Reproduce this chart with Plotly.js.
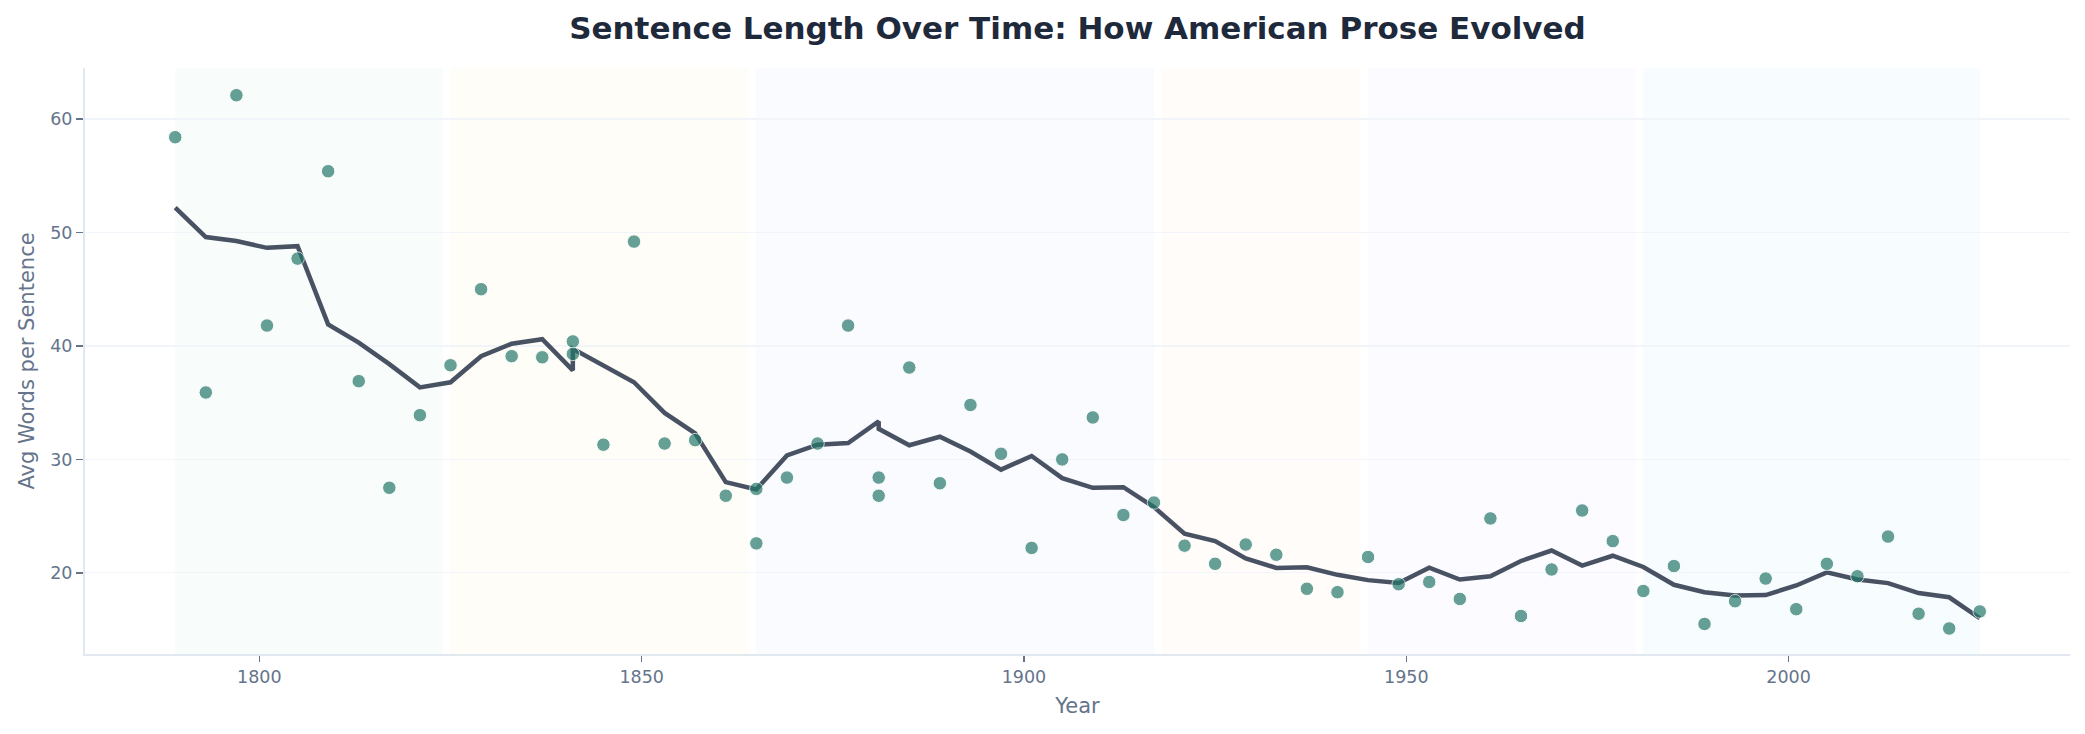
<!DOCTYPE html>
<html>
<head>
<meta charset="utf-8">
<script src="https://cdn.plot.ly/plotly-3.0.1.min.js"></script>
<style>
  html, body { margin: 0; padding: 0; background: #ffffff; }
  #chart { width: 2085px; height: 734px; }
</style>
</head>
<body>
<div id="chart"></div>
<script>
// Sampled works: publication year and average words per sentence
const years = [
  1789, 1793, 1797, 1801, 1805, 1809, 1813, 1817, 1821, 1825,
  1829, 1833, 1837, 1841, 1841, 1845, 1849, 1853, 1857, 1861,
  1865, 1865, 1869, 1873, 1877, 1881, 1881, 1885, 1889, 1893,
  1897, 1901, 1905, 1909, 1913, 1917, 1921, 1925, 1929, 1933,
  1937, 1941, 1945, 1949, 1953, 1957, 1961, 1965, 1969, 1973,
  1977, 1981, 1985, 1989, 1993, 1997, 2001, 2005, 2009, 2013,
  2017, 2021, 2025
];
const avgWords = [
  58.4, 35.9, 62.1, 41.8, 47.7, 55.4, 36.9, 27.5, 33.9, 38.3,
  45.0, 39.1, 39.0, 40.4, 39.3, 31.3, 49.2, 31.4, 31.7, 26.8,
  27.4, 22.6, 28.4, 31.4, 41.8, 28.4, 26.8, 38.1, 27.9, 34.8,
  30.5, 22.2, 30.0, 33.7, 25.1, 26.2, 22.4, 20.8, 22.5, 21.6,
  18.6, 18.3, 21.4, 19.0, 19.2, 17.7, 24.8, 16.2, 20.3, 25.5,
  22.8, 18.4, 20.6, 15.5, 17.5, 19.5, 16.8, 20.8, 19.7, 23.2,
  16.4, 15.1, 16.6
];
// Smoothed trend (centred 5-sample average), one value per sample
const trendAvg = [
  52.2, 49.6, 49.25, 48.65, 48.8, 41.9, 40.3, 38.4, 36.35, 36.8,
  39.1, 40.2, 40.6, 37.85, 39.75, 38.3, 36.8, 34.1, 32.3, 28.0,
  27.45, 27.35, 30.35, 31.3, 31.45, 33.35, 32.7, 31.25, 32.0, 30.7,
  29.1, 30.3, 28.35, 27.5, 27.55, 25.8, 23.45, 22.8, 21.27, 20.44,
  20.5, 19.83, 19.36, 19.11, 20.45, 19.41, 19.7, 21.05, 21.97, 20.64,
  21.51, 20.52, 18.95, 18.29, 18.0, 18.04, 18.89, 20.04, 19.42, 19.1,
  18.22, 17.85, 16.0
];

// Literary eras shaded behind the data
const eraStart = [1789, 1825, 1865, 1918, 1945, 1981];
const eraEnd   = [1824, 1864, 1917, 1944, 1980, 2025];
const eraFill  = [
  'rgba(16,185,129,0.03)',
  'rgba(234,179,8,0.03)',
  'rgba(59,130,246,0.03)',
  'rgba(249,115,22,0.025)',
  'rgba(139,92,246,0.025)',
  'rgba(14,165,233,0.03)'
];

const yTicks = [20, 30, 40, 50, 60];
const xTicks = [1800, 1850, 1900, 1950, 2000];

const FONT = 'DejaVu Sans, Verdana, sans-serif';
const SLATE = '#64748b';

const shapes = eraStart.map((s, i) => ({
  type: 'rect', xref: 'x', yref: 'paper',
  x0: s, x1: eraEnd[i], y0: 0, y1: 1,
  fillcolor: eraFill[i], line: { width: 0 }, layer: 'between'
}));

const trend = {
  x: years, y: trendAvg, type: 'scatter', mode: 'lines',
  line: { color: '#485263', width: 4.5 },
  hoverinfo: 'skip', showlegend: false
};

const samples = {
  x: years, y: avgWords, type: 'scatter', mode: 'markers',
  marker: { size: 13.5, color: '#26786a', opacity: 0.7,
            line: { color: '#ffffff', width: 1 } },
  showlegend: false
};

const layout = {
  width: 2085, height: 734,
  margin: { l: 85, r: 15, t: 68, b: 80 },
  paper_bgcolor: '#ffffff', plot_bgcolor: '#ffffff',
  font: { family: FONT, color: SLATE, size: 17.5 },
  title: {
    text: '<b>Sentence Length Over Time: How American Prose Evolved</b>',
    font: { family: FONT, size: 31, color: '#1e293b' },
    x: 0.5, xanchor: 'center', xref: 'paper',
    y: 0.962, yanchor: 'middle', yref: 'container'
  },
  xaxis: {
    range: [1777.2, 2036.8],
    tickvals: xTicks, ticktext: xTicks.map(String),
    showgrid: false, zeroline: false,
    showline: true, linecolor: '#e2e8f0', linewidth: 2,
    ticks: 'outside', ticklen: 6, tickwidth: 1.5, tickcolor: SLATE,
    tickfont: { family: FONT, size: 17.5, color: SLATE },
    title: { text: 'Year', font: { family: FONT, size: 21, color: SLATE }, standoff: 12 }
  },
  yaxis: {
    range: [12.85, 64.5],
    tickvals: yTicks, ticktext: yTicks.map(String),
    showgrid: true, gridcolor: '#f1f5f9', gridwidth: 1.2,
    zeroline: false,
    showline: true, linecolor: '#e2e8f0', linewidth: 2,
    ticks: 'outside', ticklen: 7, tickwidth: 1.5, tickcolor: SLATE,
    tickfont: { family: FONT, size: 17.5, color: SLATE },
    title: { text: 'Avg Words per Sentence', font: { family: FONT, size: 21, color: SLATE }, standoff: 10 }
  },
  shapes: shapes
};

Plotly.newPlot('chart', [trend, samples], layout, { displayModeBar: false, staticPlot: true });
</script>
</body>
</html>
